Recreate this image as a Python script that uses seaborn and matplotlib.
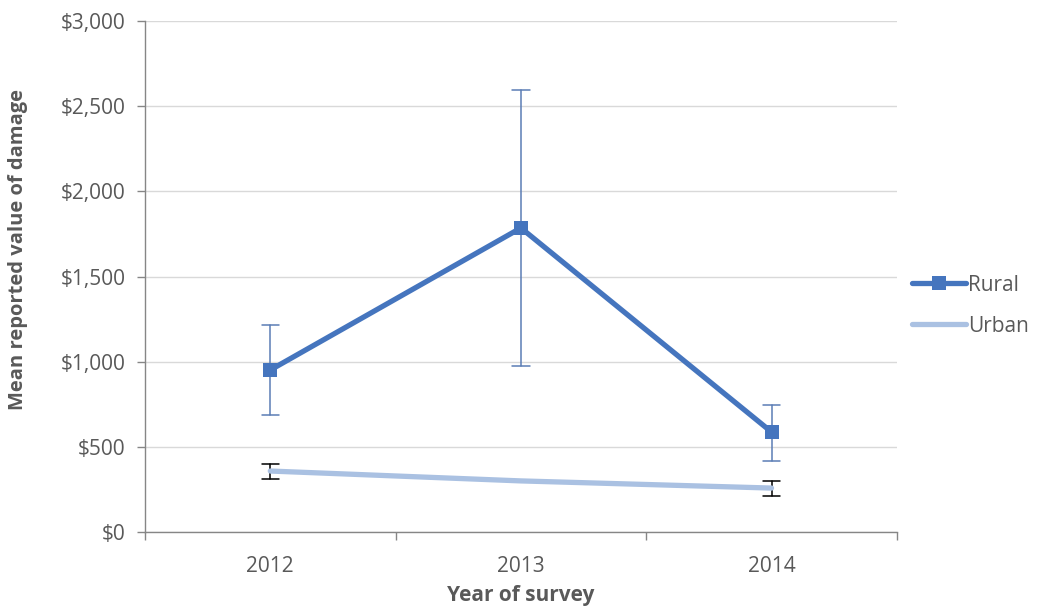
import matplotlib
matplotlib.use('Agg')
import matplotlib.pyplot as plt
import seaborn as sns
import pandas as pd
from matplotlib.ticker import FuncFormatter, FixedLocator

# %% Data
years = ['2012', '2013', '2014']
rural_mean = [951, 1785, 587]
rural_low = [687, 975, 417]
rural_high = [1215, 2595, 746]
urban_mean = [358, 300, 258]
urban_low = [311, None, 211]
urban_high = [399, None, 300]

rural_color = '#4575BE'
urban_color = '#AAC1E2'
text_color = '#595959'

sns.set_style('white')
plt.rcParams['font.family'] = ['Open Sans', 'DejaVu Sans']

fig = plt.figure(figsize=(10.62, 6.12), dpi=100)
ax = fig.add_axes([0.1365, 0.1307, 0.708, 0.835])

pos = list(range(len(years)))
df = pd.DataFrame({'pos': pos * 2,
                   'value': rural_mean + urban_mean,
                   'Area': ['Rural'] * 3 + ['Urban'] * 3})

# error bars first so lines sit on top
for i in pos:
    ax.plot([i, i], [rural_low[i], rural_high[i]], color='#5B7DB5', lw=1.1, zorder=2)
    for yv in (rural_low[i], rural_high[i]):
        ax.plot([i - 0.035, i + 0.035], [yv, yv], color='#5B7DB5', lw=1.1, zorder=2)
    if urban_low[i] is not None:
        ax.plot([i, i], [urban_low[i], urban_high[i]], color='black', lw=1.1, zorder=2)
        for yv in (urban_low[i], urban_high[i]):
            ax.plot([i - 0.035, i + 0.035], [yv, yv], color='black', lw=1.1, zorder=2)

sns.lineplot(data=df[df['Area'] == 'Rural'], x='pos', y='value', ax=ax,
             color=rural_color, lw=3.8, marker='s', markersize=10,
             markeredgewidth=0, label='Rural', zorder=4)
sns.lineplot(data=df[df['Area'] == 'Urban'], x='pos', y='value', ax=ax,
             color=urban_color, lw=3.8, label='Urban', zorder=3)

ax.set_xlim(-0.5, 2.5)
ax.set_ylim(0, 3000)
ax.set_yticks(range(0, 3001, 500))
ax.yaxis.set_major_formatter(FuncFormatter(lambda v, p: '${:,.0f}'.format(v)))
ax.yaxis.grid(True, color='#D9D9D9', lw=1)

ax.xaxis.set_major_locator(FixedLocator([-0.5, 0.5, 1.5, 2.5]))
ax.xaxis.set_major_formatter(FuncFormatter(lambda v, p: ''))
ax.xaxis.set_minor_locator(FixedLocator(pos))
ax.set_xticklabels(years, minor=True)
ax.tick_params(axis='x', which='major', length=6, width=1, color='#868686', direction='out', bottom=True)
ax.tick_params(axis='x', which='minor', length=0, pad=17, labelsize=15, labelcolor=text_color)
ax.tick_params(axis='y', length=6, width=1, color='#868686', direction='out', left=True,
               labelsize=15, labelcolor=text_color, pad=8)

for side in ['top', 'right']:
    ax.spines[side].set_visible(False)
for side in ['left', 'bottom']:
    ax.spines[side].set_color('#868686')
    ax.spines[side].set_linewidth(1)

ax.set_xlabel('Year of survey', fontsize=15, color=text_color, fontweight='bold', labelpad=6)
ax.set_ylabel('Mean reported value of damage', fontsize=14.5, color=text_color, fontweight='bold')
ax.yaxis.set_label_coords(-0.155, 0.552)

leg = ax.legend(loc='center left', bbox_to_anchor=(0.995, 0.443), frameon=False,
                fontsize=15, handlelength=2.6, labelspacing=0.95, handletextpad=0.1)
for t in leg.get_texts():
    t.set_color(text_color)

fig.savefig('out.png', dpi=100)
